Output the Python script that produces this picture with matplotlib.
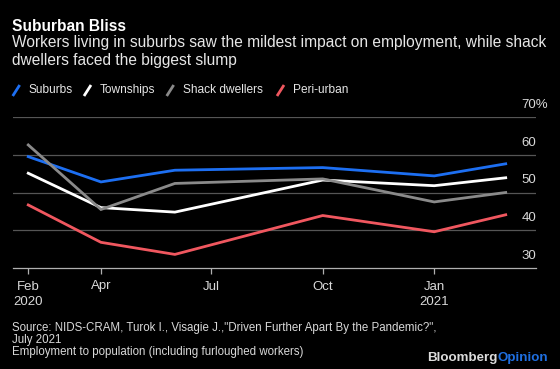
#!/usr/bin/env python3

import numpy as np
import pandas as pd
import matplotlib
matplotlib.use("Agg")
import matplotlib.pyplot as plt
import matplotlib.dates as mdates
from matplotlib.lines import Line2D

plt.rcParams['font.family'] = ['Liberation Sans', 'DejaVu Sans']

# survey waves
dates = pd.to_datetime(["2020-02-01", "2020-04-01", "2020-06-01",
                        "2020-10-01", "2021-01-01", "2021-03-01"])

suburbs = [59.5, 52.8, 55.9, 56.6, 54.4, 57.6]
townships = [55.1, 46.0, 44.8, 53.3, 51.8, 53.9]
shack = [62.6, 45.5, 52.4, 53.6, 47.5, 50.0]
peri_urban = [46.7, 36.8, 33.6, 43.9, 39.6, 44.1]

series = [
    ("Suburbs", suburbs, "#1d6ff2"),
    ("Townships", townships, "#ffffff"),
    ("Shack dwellers", shack, "#8a8a8a"),
    ("Peri-urban", peri_urban, "#f0575f"),
]

yticks = [30, 40, 50, 60, 70]
ytick_labels = ["30", "40", "50", "60", "70%"]
xticks = pd.to_datetime(["2020-02-01", "2020-04-01", "2020-07-01",
                         "2020-10-01", "2021-01-01"])
xtick_labels = ["Feb\n2020", "Apr", "Jul", "Oct", "Jan\n2021"]

W, H = 560, 369
BG = "#000000"


def fx(px):
    return px / W


def fy(py):
    return 1 - py / H


fig = plt.figure(figsize=(5.6, 3.69), dpi=100, facecolor=BG)
ax = fig.add_axes([fx(12.5), fy(268), fx(536) - fx(12.5), fy(117) - fy(268)])
ax.set_facecolor(BG)

for label, vals, color in series:
    ax.plot(dates, vals, color=color, lw=2.0, solid_joinstyle="miter", zorder=3)

ax.set_ylim(30, 70)
ax.set_xlim(pd.Timestamp("2020-01-19"), pd.Timestamp("2021-03-26"))

# gridlines
for v in yticks[1:]:
    ax.axhline(v, color="#555555", lw=0.9, zorder=1)
ax.set_yticks([])

# y labels sit above gridlines, on the right
for v, t in zip(yticks, ytick_labels):
    ax.annotate(t, xy=(0.9727, v), xycoords=("axes fraction", "data"),
                xytext=(0, 4.5), textcoords="offset points",
                ha="left", va="bottom", color="#d9d9d9", fontsize=9.5,
                annotation_clip=False)

for s in ["top", "right", "left"]:
    ax.spines[s].set_visible(False)
ax.spines["bottom"].set_color("#b0b0b0")
ax.spines["bottom"].set_linewidth(0.9)
ax.set_xticks(xticks)
ax.set_xticklabels(xtick_labels, fontsize=9.5, color="#d9d9d9", linespacing=1.35)
ax.tick_params(axis="x", colors="#b0b0b0", length=4, width=0.9, pad=5,
               labelcolor="#d9d9d9")

# title block
fig.text(fx(12), fy(31), "Suburban Bliss", fontsize=11.2, fontweight="bold",
         color="#ffffff", va="baseline")
fig.text(fx(12), fy(47.5), "Workers living in suburbs saw the mildest impact on "
         "employment, while shack", fontsize=11.2, color="#e6e6e6", va="baseline")
fig.text(fx(12), fy(64.5), "dwellers faced the biggest slump", fontsize=11.2,
         color="#e6e6e6", va="baseline")

# legend with slash markers
leg_x = [12.7, 84, 166.7, 277]
for (label, vals, color), x in zip(series, leg_x):
    fig.add_artist(Line2D([fx(x), fx(x + 7)], [fy(96), fy(85)], color=color,
                          lw=2.0, solid_capstyle="butt"))
    fig.text(fx(x + 16), fy(93), label, fontsize=8.6, color="#e6e6e6",
             va="baseline")

# footer
fig.text(fx(12.5), fy(330.7), "Source: NIDS-CRAM, Turok I., Visagie J.,\"Driven "
         "Further Apart By the Pandemic?\",", fontsize=8.3, color="#d9d9d9",
         va="baseline")
fig.text(fx(12.5), fy(343.2), "July 2021", fontsize=8.3, color="#d9d9d9",
         va="baseline")
fig.text(fx(12.5), fy(355.5), "Employment to population (including furloughed "
         "workers)", fontsize=8.3, color="#d9d9d9", va="baseline")

logo = fig.text(fx(427.5), fy(361), "Bloomberg", fontsize=9.6, fontweight="bold",
                color="#dcdcdc", va="baseline")
fig.canvas.draw()
bb = logo.get_window_extent()
fig.text(bb.x1 / W, fy(361), "Opinion", fontsize=9.6, fontweight="bold",
         color="#1f6fe0", va="baseline")

fig.savefig("out.png", dpi=100, facecolor=BG)
